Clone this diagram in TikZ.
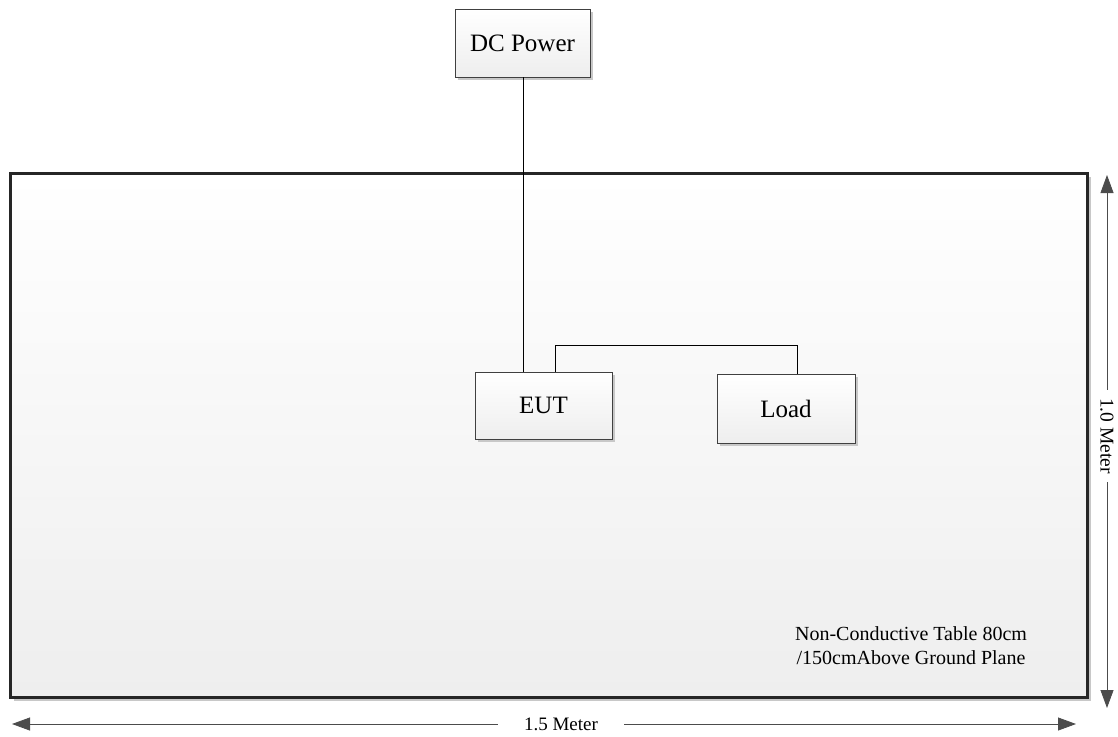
\documentclass[tikz,border=0pt]{standalone}
\usepackage{fontspec}
\setmainfont{Liberation Serif}
\usetikzlibrary{arrows.meta,shadows}
\definecolor{shd}{RGB}{200,200,200}
\definecolor{botc}{RGB}{238,238,238}
\tikzset{
  unitbox/.style={draw=black!75,line width=0.8pt,top color=white,bottom color=botc,
    drop shadow={shadow xshift=3pt,shadow yshift=-3pt,fill=shd,opacity=1},
    minimum width=#1,font=\fontsize{25}{30}\selectfont,inner sep=0pt},
  wire/.style={line width=0.8pt,black},
  dimarrow/.style={line width=0.8pt,black!70,{Triangle[length=18pt,width=13pt]}-{Triangle[length=18pt,width=13pt]}},
  dimlabel/.style={fill=white,inner sep=3pt,font=\fontsize{19.5}{23}\selectfont}
}
\begin{document}
\begin{tikzpicture}[x=1pt,y=-1pt]
\useasboundingbox (0,0) rectangle (1118,736);
% table
\fill[shd] (14,177) rectangle (1091,701);
\shade[top color=white,bottom color=botc] (10,173) rectangle (1087,697);
\draw[line width=3pt,black!85] (10,173) rectangle (1087,697);
% boxes
\node[unitbox=135pt,minimum height=68pt] (dc) at (522.5,43) {DC Power};
\node[unitbox=137pt,minimum height=67pt] (eut) at (543.5,405.5) {EUT};
\node[unitbox=138pt,minimum height=69pt] (load) at (786,408.5) {Load};
% wires
\draw[wire] (dc.south -| 523,0) -- (eut.north -| 523,0);
\coordinate (c1) at (555,345);
\coordinate (c2) at (797,345);
\draw[wire] (eut.north -| c1) -- (c1) -- (c2) -- (load.north -| c2);
% note
\node[align=center,font=\fontsize{20}{24}\selectfont] (note) at (911,646) {Non-Conductive Table 80cm\\/150cmAbove Ground Plane};
% dimension arrows
\coordinate (vt) at (1107,175);
\coordinate (vb) at (1107,708);
\draw[dimarrow] (vt) -- (vb);
\node[dimlabel,rotate=-90,inner xsep=8pt] (vlab) at (1107,436) {1.0 Meter};
\coordinate (hl) at (12,724);
\coordinate (hr) at (1076,724);
\draw[dimarrow] (hl) -- (hr);
\node[dimlabel,inner xsep=26pt,font=\fontsize{19}{23}\selectfont] (hlab) at (561,724) {1.5 Meter};
\end{tikzpicture}
\end{document}
